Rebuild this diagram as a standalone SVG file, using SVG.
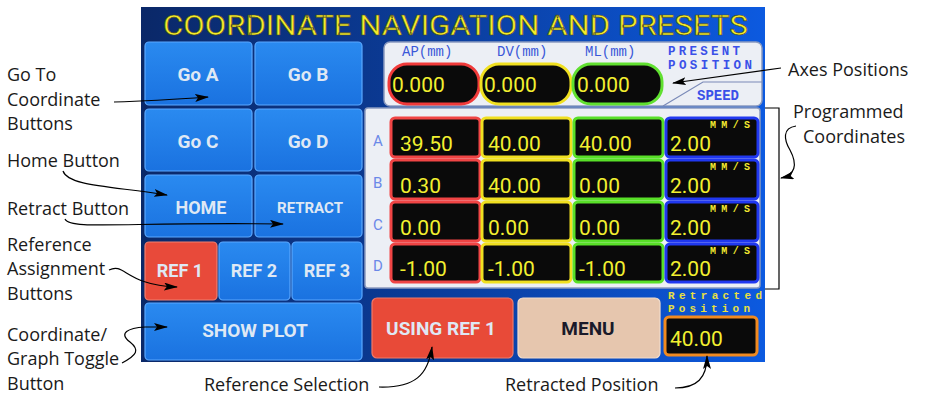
<svg xmlns="http://www.w3.org/2000/svg" width="925" height="397" viewBox="0 0 925 397">
<defs>
<linearGradient id="scr" x1="0" y1="0" x2="1" y2="0">
<stop offset="0" stop-color="#0a2868"/>
<stop offset="0.5" stop-color="#0b3e9e"/>
<stop offset="1" stop-color="#0c5ae0"/>
</linearGradient>
<linearGradient id="btn" x1="0" y1="0" x2="0" y2="1">
<stop offset="0" stop-color="#2a8af0"/>
<stop offset="1" stop-color="#1a72e0"/>
</linearGradient>
<marker id="ah" viewBox="0 0 14 8" refX="13" refY="4" markerWidth="14" markerHeight="8" markerUnits="userSpaceOnUse" orient="auto">
<path d="M0,0 L14,4 L0,8 L3,4 Z" fill="#000"/>
</marker>
<style>
.lbl{font-family:"Open Sans",sans-serif;font-size:18px;fill:#1a1a1a}
.b{fill:url(#btn);stroke:#5aa8ff;stroke-width:1.2}
.bt{font-family:Roboto,"Liberation Sans",sans-serif;font-weight:bold;fill:#dfe8f4;text-anchor:middle}
.mono{font-family:"Liberation Mono",monospace}
.val{font-family:Roboto,"Liberation Sans",sans-serif;font-size:21px;fill:#f2f030}
.cell{fill:#0a0a0a;stroke-width:3}
.mms{font-family:"Liberation Mono",monospace;font-weight:bold;font-size:10px;fill:#f2e830}
.row{font-family:Roboto,"Liberation Sans",sans-serif;font-size:15px;fill:#6a88e8}
.c{fill:none;stroke:#000;stroke-width:1.2}
</style>
</defs>
<rect width="925" height="397" fill="#fff"/>
<g id="screen">
<rect x="141" y="7" width="624" height="355" fill="url(#scr)"/>
<text x="163" y="35" font-family="Roboto,'Liberation Sans',sans-serif" font-size="28" fill="#f4ec2a" stroke="#4a4a20" stroke-width="0.6" textLength="585" lengthAdjust="spacingAndGlyphs">COORDINATE NAVIGATION AND PRESETS</text>
</g>
<g id="go-a"><rect class="b" x="145" y="42" width="107" height="63" rx="4"/><text class="bt" x="198" y="81" font-size="19">Go A</text></g>
<g id="go-b"><rect class="b" x="255" y="42" width="107" height="63" rx="4"/><text class="bt" x="308" y="81" font-size="19">Go B</text></g>
<g id="go-c"><rect class="b" x="145" y="109" width="107" height="62" rx="4"/><text class="bt" x="198" y="148" font-size="19">Go C</text></g>
<g id="go-d"><rect class="b" x="255" y="109" width="107" height="62" rx="4"/><text class="bt" x="308" y="148" font-size="19">Go D</text></g>
<g id="home"><rect class="b" x="145" y="175" width="107" height="62" rx="4"/><text class="bt" x="201" y="214" font-size="18">HOME</text></g>
<g id="retract"><rect class="b" x="255" y="175" width="107" height="62" rx="4"/><text class="bt" x="310" y="213" font-size="15">RETRACT</text></g>
<g id="ref1"><rect x="145" y="242" width="72" height="58" rx="4" fill="#e84a3a" stroke="#f08070" stroke-width="1.2"/><text class="bt" x="180" y="277" font-size="18">REF 1</text></g>
<g id="ref2"><rect class="b" x="219" y="242" width="71" height="58" rx="4"/><text class="bt" x="254" y="277" font-size="18">REF 2</text></g>
<g id="ref3"><rect class="b" x="292" y="242" width="70" height="58" rx="4"/><text class="bt" x="327" y="277" font-size="18">REF 3</text></g>
<g id="show-plot"><rect class="b" x="145" y="303" width="217" height="57" rx="4"/><text class="bt" x="255" y="337" font-size="19">SHOW PLOT</text></g>
<g id="present-position">
<rect x="384" y="42" width="378" height="64" rx="6" fill="#eceff5" stroke="#8a9ac0" stroke-width="1.5"/>
<text class="mono" x="402" y="56" font-size="14" fill="#3a58d8">AP(mm)</text>
<text class="mono" x="497" y="56" font-size="14" fill="#3a58d8">DV(mm)</text>
<text class="mono" x="585" y="56" font-size="14" fill="#3a58d8">ML(mm)</text>
<rect x="389" y="64" width="90" height="40" rx="18" fill="#0a0a0a" stroke="#f03a3a" stroke-width="3"/>
<rect x="481" y="64" width="90" height="40" rx="18" fill="#0a0a0a" stroke="#f0e020" stroke-width="3"/>
<rect x="573" y="64" width="89" height="40" rx="18" fill="#0a0a0a" stroke="#60e030" stroke-width="3"/>
<text class="val" x="392" y="92">0.000</text>
<text class="val" x="484" y="92">0.000</text>
<text class="val" x="577" y="92">0.000</text>
<text class="mono" x="668" y="55" font-size="12.5" font-weight="bold" fill="#3a50e8" textLength="72">PRESENT</text>
<text class="mono" x="668" y="69" font-size="12.5" font-weight="bold" fill="#3a50e8" textLength="84">POSITION</text>
<path d="M663,106 L703,82 L762,82" fill="none" stroke="#7a8ab8" stroke-width="1.2"/>
<text class="mono" x="697" y="100" font-size="14" font-weight="bold" fill="#3a50e8">SPEED</text>
</g>
<g id="programmed-table">
<rect x="365" y="108" width="395" height="180" rx="3" fill="#eceff5" stroke="#8a9ac0" stroke-width="1.5"/>
<text class="row" x="373" y="146">A</text>
<text class="row" x="373" y="188">B</text>
<text class="row" x="373" y="230">C</text>
<text class="row" x="373" y="271">D</text>
<g stroke="#f04545"><rect class="cell" x="391" y="118" width="89" height="39" rx="4"/><rect class="cell" x="391" y="160" width="89" height="39" rx="4"/><rect class="cell" x="391" y="202" width="89" height="39" rx="4"/><rect class="cell" x="391" y="244" width="89" height="38" rx="4"/></g>
<g stroke="#f0e020"><rect class="cell" x="482" y="118" width="89" height="39" rx="4"/><rect class="cell" x="482" y="160" width="89" height="39" rx="4"/><rect class="cell" x="482" y="202" width="89" height="39" rx="4"/><rect class="cell" x="482" y="244" width="89" height="38" rx="4"/></g>
<g stroke="#58e028"><rect class="cell" x="574" y="118" width="89" height="39" rx="4"/><rect class="cell" x="574" y="160" width="89" height="39" rx="4"/><rect class="cell" x="574" y="202" width="89" height="39" rx="4"/><rect class="cell" x="574" y="244" width="89" height="38" rx="4"/></g>
<g stroke="#2038f0"><rect class="cell" x="666" y="118" width="92" height="39" rx="4"/><rect class="cell" x="666" y="160" width="92" height="39" rx="4"/><rect class="cell" x="666" y="202" width="92" height="39" rx="4"/><rect class="cell" x="666" y="244" width="92" height="38" rx="4"/></g>
<text class="val" x="400" y="151">39.50</text><text class="val" x="488" y="151">40.00</text><text class="val" x="579" y="151">40.00</text><text class="val" x="670" y="151">2.00</text>
<text class="val" x="400" y="193">0.30</text><text class="val" x="488" y="193">40.00</text><text class="val" x="579" y="193">0.00</text><text class="val" x="670" y="193">2.00</text>
<text class="val" x="400" y="235">0.00</text><text class="val" x="488" y="235">0.00</text><text class="val" x="579" y="235">0.00</text><text class="val" x="670" y="235">2.00</text>
<text class="val" x="400" y="276">-1.00</text><text class="val" x="488" y="276">-1.00</text><text class="val" x="579" y="276">-1.00</text><text class="val" x="670" y="276">2.00</text>
<text class="mms" x="710" y="128" textLength="40">MM/S</text><text class="mms" x="710" y="170" textLength="40">MM/S</text><text class="mms" x="710" y="212" textLength="40">MM/S</text><text class="mms" x="710" y="254" textLength="40">MM/S</text>
</g>
<g id="using-ref1"><rect x="372" y="298" width="141" height="60" rx="5" fill="#e84a38" stroke="#f07a68" stroke-width="1.2"/><text class="bt" x="441" y="335" font-size="19">USING REF 1</text></g>
<g id="menu"><rect x="518" y="298" width="142" height="60" rx="5" fill="#e6c6ae" stroke="#f2dccb" stroke-width="1.2"/><text class="bt" x="588" y="335" font-size="19" style="fill:#1a1a2a">MENU</text></g>
<g id="retracted-position">
<text class="mono" x="668" y="299" font-size="11" font-weight="bold" fill="#e8e040" textLength="94">Retracted</text>
<text class="mono" x="668" y="312" font-size="11" font-weight="bold" fill="#e8e040" textLength="82">Position</text>
<rect x="665" y="317" width="92" height="38" rx="4" fill="#0a0a0a" stroke="#f08a20" stroke-width="3"/>
<text class="val" x="670" y="346">40.00</text>
</g>
<g id="labels">
<text class="lbl" x="7" y="81">Go To</text>
<text class="lbl" x="7" y="105.5">Coordinate</text>
<text class="lbl" x="7" y="130">Buttons</text>
<text class="lbl" x="7" y="167">Home Button</text>
<text class="lbl" x="7" y="215">Retract Button</text>
<text class="lbl" x="7" y="250.5">Reference</text>
<text class="lbl" x="7" y="275">Assignment</text>
<text class="lbl" x="7" y="299.5">Buttons</text>
<text class="lbl" x="7" y="340.5">Coordinate/</text>
<text class="lbl" x="7" y="365">Graph Toggle</text>
<text class="lbl" x="7" y="389.5">Button</text>
<text class="lbl" x="204" y="391">Reference Selection</text>
<text class="lbl" x="505" y="391">Retracted Position</text>
<text class="lbl" x="788" y="76">Axes Positions</text>
<text class="lbl" x="793" y="118">Programmed</text>
<text class="lbl" x="803" y="142.5">Coordinates</text>
</g>
<g id="connectors">
<path class="c" d="M114,102 C150,101 180,99 208,97" marker-end="url(#ah)"/>
<path class="c" d="M63,171 C68,186 110,186 167,195" marker-end="url(#ah)"/>
<path class="c" d="M65,219 C70,230 120,222 283,224" marker-end="url(#ah)"/>
<path class="c" d="M109,270 C125,262 125,285 177,287" marker-end="url(#ah)"/>
<path class="c" d="M122,363 C137,355 140,350 130,342 C118,333 128,328 145,327 L167,327" marker-end="url(#ah)"/>
<path class="c" d="M379,387 C415,388 428,375 432,347" marker-end="url(#ah)"/>
<path class="c" d="M675,388 C697,388 707,378 707,356" marker-end="url(#ah)"/>
<path class="c" d="M781,68 L673,83" marker-end="url(#ah)"/>
<path class="c" d="M765,108 L779,108 L779,289 L765,289"/>
<path class="c" d="M796,126 C782,128 784,140 790,150 C798,165 795,175 781,178" marker-end="url(#ah)"/>
</g>
</svg>
